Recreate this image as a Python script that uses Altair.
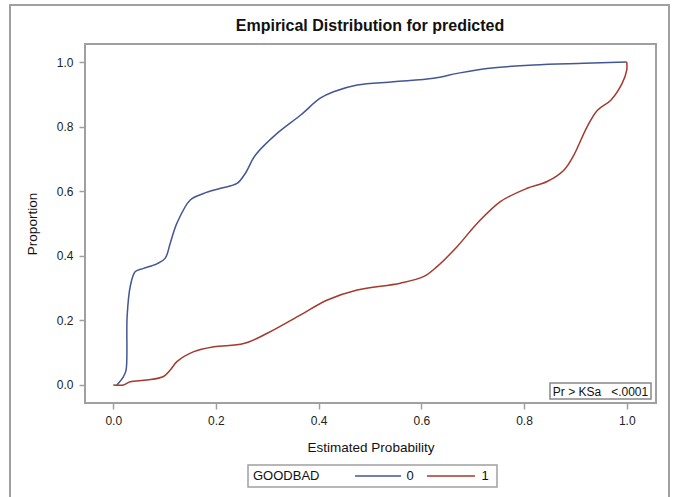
import altair as alt
import pandas as pd

# ---- data ----
groups = ["0", "1"]
colors = ["#445694", "#A23A2E"]

blue_x = [0.007, 0.020, 0.025, 0.027, 0.033, 0.043, 0.059, 0.085, 0.101, 0.111,
          0.124, 0.150, 0.176, 0.209, 0.241, 0.257, 0.277, 0.319, 0.365, 0.403,
          0.429, 0.475, 0.546, 0.624, 0.670, 0.728, 0.819, 0.917, 1.0]
blue_y = [0.0, 0.026, 0.046, 0.211, 0.304, 0.351, 0.361, 0.375, 0.392, 0.439,
          0.501, 0.573, 0.593, 0.609, 0.624, 0.655, 0.712, 0.779, 0.836, 0.888,
          0.908, 0.929, 0.939, 0.950, 0.965, 0.980, 0.991, 0.996, 1.0]

red_x = [0.0, 0.020, 0.033, 0.066, 0.098, 0.111, 0.124, 0.157, 0.196, 0.254,
         0.300, 0.365, 0.417, 0.475, 0.559, 0.605, 0.631, 0.670, 0.709, 0.754,
         0.806, 0.845, 0.878, 0.897, 0.923, 0.943, 0.969, 0.991, 1.0, 1.0]
red_y = [0.0, 0.0, 0.010, 0.015, 0.026, 0.046, 0.072, 0.103, 0.118, 0.128,
         0.160, 0.217, 0.263, 0.294, 0.315, 0.336, 0.367, 0.429, 0.501, 0.568,
         0.609, 0.630, 0.666, 0.712, 0.800, 0.851, 0.882, 0.934, 0.975, 1.0]

tick_values = [0.0, 0.2, 0.4, 0.6, 0.8, 1.0]
title_text = "Empirical Distribution for predicted"
ks_text = "Pr > KSa\u00a0\u00a0\u00a0<.0001"
legend_title = "GOODBAD"

rows = []
for i, (x, y) in enumerate(zip(blue_x, blue_y)):
    rows.append({"p": x, "prop": y, "GOODBAD": groups[0], "i": i})
for i, (x, y) in enumerate(zip(red_x, red_y)):
    rows.append({"p": x, "prop": y, "GOODBAD": groups[1], "i": i})
df = pd.DataFrame(rows)

W, H = 571, 359
FONT = "Liberation Sans"
GRAY = "#a0a0a0"
TXT = "#111111"

xs = alt.Scale(domain=[-0.055, 1.057], nice=False, zero=False)
ys = alt.Scale(domain=[-0.056, 1.056], nice=False, zero=False)

lines = alt.Chart(df).mark_line(strokeWidth=1.5, interpolate="catmull-rom", clip=True).encode(
    x=alt.X("p:Q", scale=xs,
            axis=alt.Axis(title="Estimated Probability", values=tick_values, format=".1f",
                          titleX=W / 2, titleY=44, titleBaseline="middle")),
    y=alt.Y("prop:Q", scale=ys,
            axis=alt.Axis(title="Proportion", values=tick_values, format=".1f",
                          titleX=-53, titleY=H / 2, titleBaseline="middle")),
    color=alt.Color("GOODBAD:N", scale=alt.Scale(domain=groups, range=colors), legend=None),
    order="i:Q",
)

one = pd.DataFrame({"t": [ks_text]})

# outer frame
border = alt.Chart(one).mark_rect(fill=None, stroke=GRAY, strokeWidth=2).encode(
    x=alt.value(-75), x2=alt.value(584), y=alt.value(-39), y2=alt.value(470))

# title
title = alt.Chart(pd.DataFrame({"t": [title_text]})).mark_text(
    align="center", baseline="alphabetic", fontSize=16, fontWeight="bold",
    font=FONT, color=TXT).encode(x=alt.value(285), y=alt.value(-13.5), text="t:N")

# KS annotation box
box = alt.Chart(one).mark_rect(fill="white", stroke="#888888", strokeWidth=1.5).encode(
    x=alt.value(465), x2=alt.value(566), y=alt.value(339), y2=alt.value(355))
txt = alt.Chart(one).mark_text(align="center", baseline="middle", fontSize=12,
                               font=FONT, color=TXT).encode(
    x=alt.value(515.5), y=alt.value(347.5), text="t:N")

# legend (bottom, boxed)
LY = 432
leg_box = alt.Chart(one).mark_rect(fill="white", stroke=GRAY, strokeWidth=1.5).encode(
    x=alt.value(163), x2=alt.value(412), y=alt.value(421), y2=alt.value(443))
leg_title = alt.Chart(pd.DataFrame({"t": [legend_title]})).mark_text(
    align="left", baseline="middle", fontSize=13, font=FONT, color=TXT).encode(
    x=alt.value(168), y=alt.value(LY), text="t:N")
leg_line0 = alt.Chart(one).mark_rule(color=colors[0], strokeWidth=1.5).encode(
    x=alt.value(270), x2=alt.value(316), y=alt.value(LY))
leg_lab0 = alt.Chart(pd.DataFrame({"t": [groups[0]]})).mark_text(
    align="center", baseline="middle", fontSize=13, font=FONT, color=TXT).encode(
    x=alt.value(325), y=alt.value(LY), text="t:N")
leg_line1 = alt.Chart(one).mark_rule(color=colors[1], strokeWidth=1.5).encode(
    x=alt.value(342), x2=alt.value(390), y=alt.value(LY))
leg_lab1 = alt.Chart(pd.DataFrame({"t": [groups[1]]})).mark_text(
    align="center", baseline="middle", fontSize=13, font=FONT, color=TXT).encode(
    x=alt.value(400), y=alt.value(LY), text="t:N")

chart = alt.layer(border, lines, box, txt, title, leg_box, leg_title,
                  leg_line0, leg_lab0, leg_line1, leg_lab1).properties(
    width=W, height=H,
    autosize=alt.AutoSizeParams(type="none"),
    padding={"left": 85, "top": 44, "right": 17, "bottom": 94},
).configure(background="white").configure_view(
    stroke=GRAY, strokeWidth=2
).configure_axis(
    domain=False, grid=False, tickColor=GRAY, tickSize=6, tickWidth=1.5,
    labelFont=FONT, labelFontSize=12, labelColor="#222", labelPadding=6,
    titleFont=FONT, titleFontSize=13.5, titleFontWeight="normal", titleColor=TXT,
)

chart.save("out.html", embed_options={"renderer": "svg", "actions": False})
